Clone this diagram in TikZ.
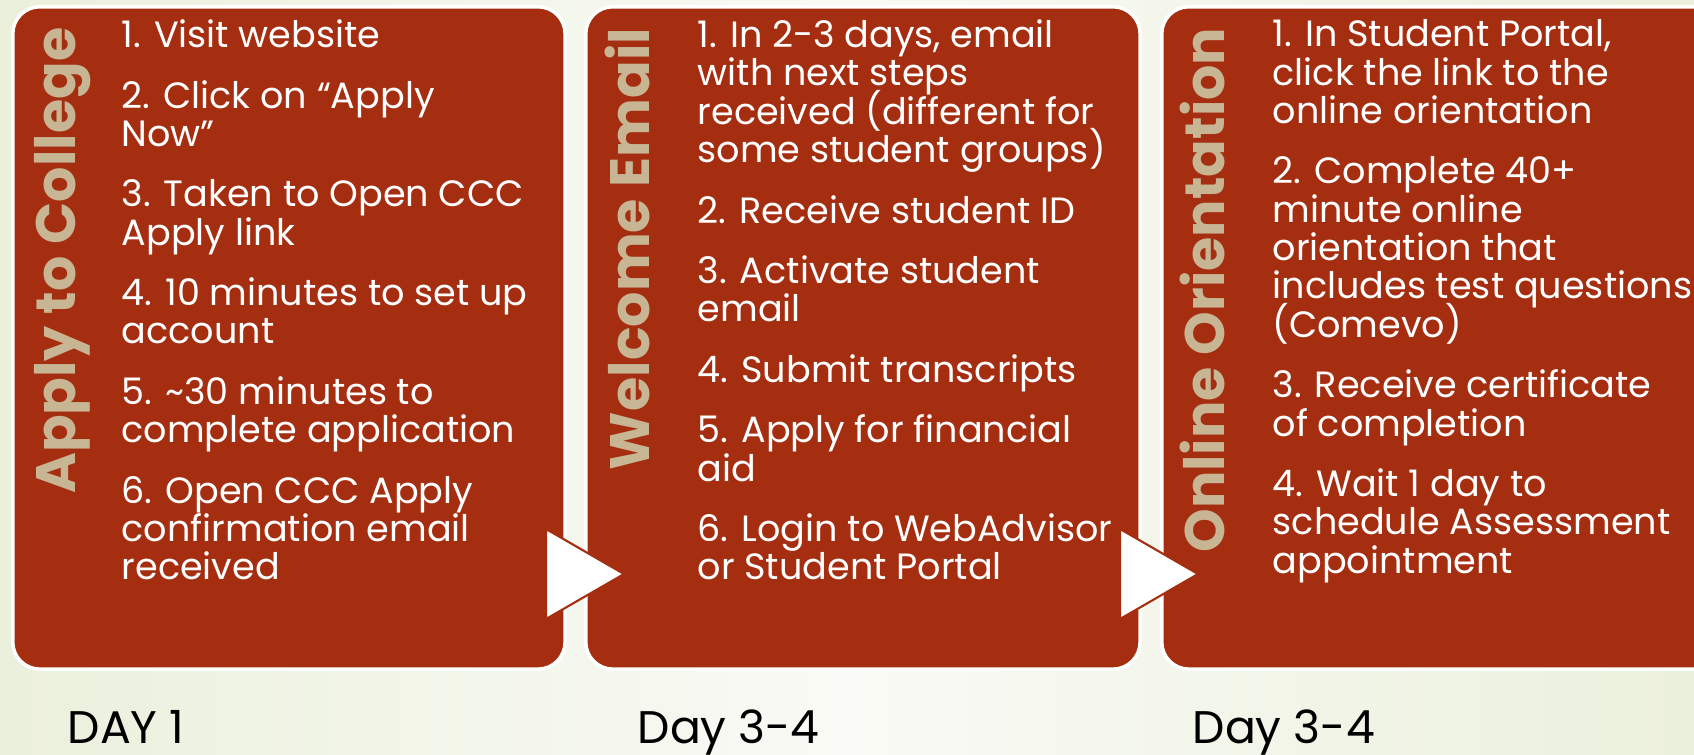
\documentclass[tikz,border=0pt]{standalone}
\usepackage{fontspec}
\setmainfont{Poppins}
\usepackage{xcolor}

\definecolor{boxred}{RGB}{165,46,17}
\definecolor{titletan}{RGB}{200,181,148}
\definecolor{bgside}{RGB}{235,240,220}
\definecolor{bgmid}{RGB}{249,250,245}
\newcommand\stepfont{\fontsize{10.4}{10.9}\selectfont\lineskiplimit=-20pt\relax}

\begin{document}
\begin{tikzpicture}[x=0.01cm,y=-0.01cm,
        stepbox/.style={fill=boxred, draw=white, line width=1pt, rounded corners=0.27cm,
            anchor=north west, minimum height=6.62cm, inner sep=0},
        title/.style={rotate=90, anchor=east, inner sep=0, text=titletan,
            font=\fontsize{15.8}{15.8}\selectfont\bfseries},
        steps/.style={anchor=north west, inner sep=0, align=left, text=white, font=\stepfont},
        day/.style={anchor=base west, inner sep=0, font=\fontsize{13}{13}\selectfont},
        playtip/.style={fill=white, draw=boxred, line width=0.6pt}]

    \clip (0,0) rectangle (1694,755);
    \shade[left color=bgside, right color=bgside, middle color=bgmid] (0,0) rectangle (1694,755);

    \node[stepbox, minimum width=5.52cm] (apply) at (11,5) {};
    \node[stepbox, minimum width=5.54cm] (welcome) at (584,5) {};
    \node[stepbox, minimum width=5.8cm] (orient) at (1160,5) {};

    \filldraw[playtip] (546,529) -- (624,574) -- (546,619) -- cycle;
    \filldraw[playtip] (1120,529) -- (1198,574) -- (1120,619) -- cycle;

    \node[title] (applyT) at (63,27) {Apply to College};
    \node[title] (welcomeT) at (627,27) {Welcome Email};
    \node[title] (orientT) at (1202,27) {Online Orientation};

    \node[steps] (applyS) at (121,19) {1. Visit website\\[6.3pt]
        2. Click on “Apply\\ Now”\\[6.3pt]
        3. Taken to Open CCC\\ Apply link\\[6.3pt]
        4. 10 minutes to set up\\ account\\[6.3pt]
        5. \textasciitilde30 minutes to\\ complete application\\[6.3pt]
        6. Open CCC Apply\\ confirmation email\\ received};
    \node[steps] (welcomeS) at (697,19) {1. In 2-3 days, email\\ with next steps\\
        received (different for\\ some student groups)\\[6.3pt]
        2. Receive student ID\\[6.3pt]
        3. Activate student\\ email\\[6.3pt]
        4. Submit transcripts\\[6.3pt]
        5. Apply for financial\\ aid\\[6.3pt]
        6. Login to WebAdvisor\\ or Student Portal};
    \node[steps] (orientS) at (1272,19) {1. In Student Portal,\\ click the link to the\\
        online orientation\\[6.3pt]
        2. Complete 40+\\ minute online\\ orientation that\\
        includes test questions\\ (Comevo)\\[6.3pt]
        3. Receive certificate\\ of completion\\[6.3pt]
        4. Wait 1 day to\\ schedule Assessment\\ appointment};

    \node[day] (day1) at (67,743) {DAY 1};
    \node[day] (day2) at (637,743) {Day 3-4};
    \node[day] (day3) at (1192,743) {Day 3-4};

\end{tikzpicture}
\end{document}
